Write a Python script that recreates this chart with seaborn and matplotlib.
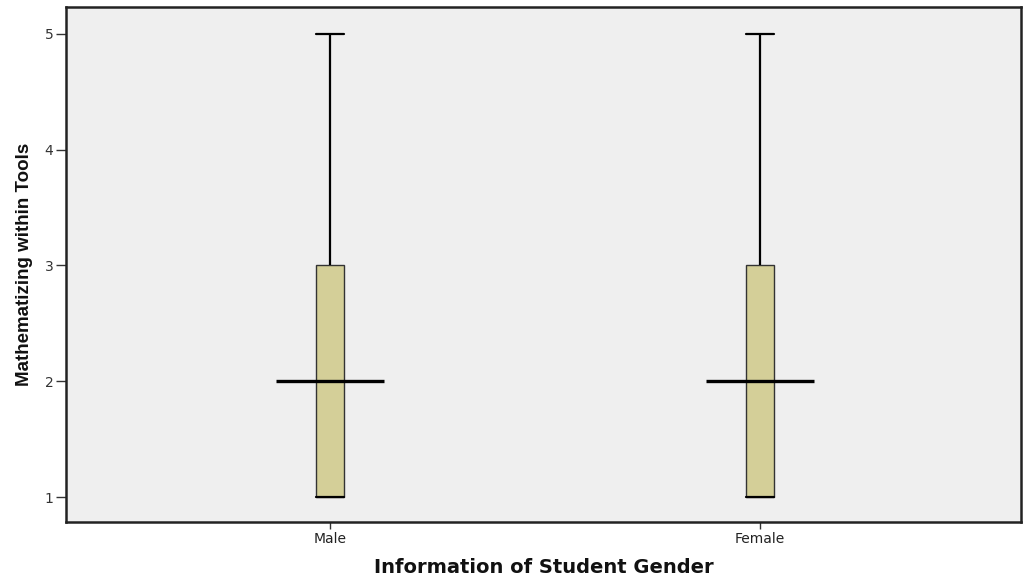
import numpy as np
import pandas as pd
import matplotlib
matplotlib.use("Agg")
import matplotlib.pyplot as plt
import seaborn as sns

# Scores on the 1-5 scale for each gender group
genders = ["Male", "Female"]
male_scores = [1, 1, 1, 2, 2, 2, 3, 3, 5]
female_scores = [1, 1, 1, 2, 2, 2, 3, 3, 5]
y_ticks = [1, 2, 3, 4, 5]

df = pd.DataFrame({
    "gender": ["Male"] * len(male_scores) + ["Female"] * len(female_scores),
    "score": male_scores + female_scores,
})

sns.set_theme(style="white")
plt.rcParams["font.family"] = ["DejaVu Sans"]

fig = plt.figure(figsize=(10.23, 5.81), dpi=100)
ax = fig.add_axes([0.0645, 0.1015, 0.9335, 0.8865])
ax.set_facecolor("#efefef")

box_w = 0.065
sns.boxplot(
    data=df, x="gender", y="score", order=genders, ax=ax,
    width=box_w, whis=1.5, color="#d4cf98", saturation=1,
    linecolor="#222222", linewidth=1.2,
    boxprops=dict(edgecolor="#333333", linewidth=1.0),
    whiskerprops=dict(color="black", linewidth=1.6),
    capprops=dict(color="black", linewidth=1.6),
    medianprops=dict(linewidth=0),
    capwidths=box_w,
    showfliers=False,
)

# Wide median bars across each group
medians = [np.median(male_scores), np.median(female_scores)]
for i, m in enumerate(medians):
    ax.hlines(m, i - 0.125, i + 0.125, color="black", linewidth=2.4, zorder=5)

ax.set_xlim(-0.614, 1.607)
ax.set_ylim(0.784, 5.233)
ax.set_yticks(y_ticks)
ax.set_yticklabels([str(t) for t in y_ticks])

for s in ax.spines.values():
    s.set_visible(True)
    s.set_color("#222222")
    s.set_linewidth(1.8)

ax.tick_params(axis="y", which="major", left=True, length=7, width=1.0,
               color="#333333", labelsize=10, labelcolor="#333333", pad=2)
ax.tick_params(axis="x", which="major", bottom=True, length=5, width=1.0,
               color="#333333", labelsize=10, labelcolor="#222222", pad=2)

ax.set_xlabel("Information of Student Gender", fontsize=14,
              fontweight="bold", color="#111111", labelpad=9)
ax.set_ylabel("Mathematizing within Tools", fontsize=13.5, fontweight="bold",
              color="#111111", labelpad=8,
              family=["Liberation Sans Narrow", "DejaVu Sans Condensed",
                      "Liberation Sans"])

fig.savefig("out.png", dpi=100, facecolor="white")
